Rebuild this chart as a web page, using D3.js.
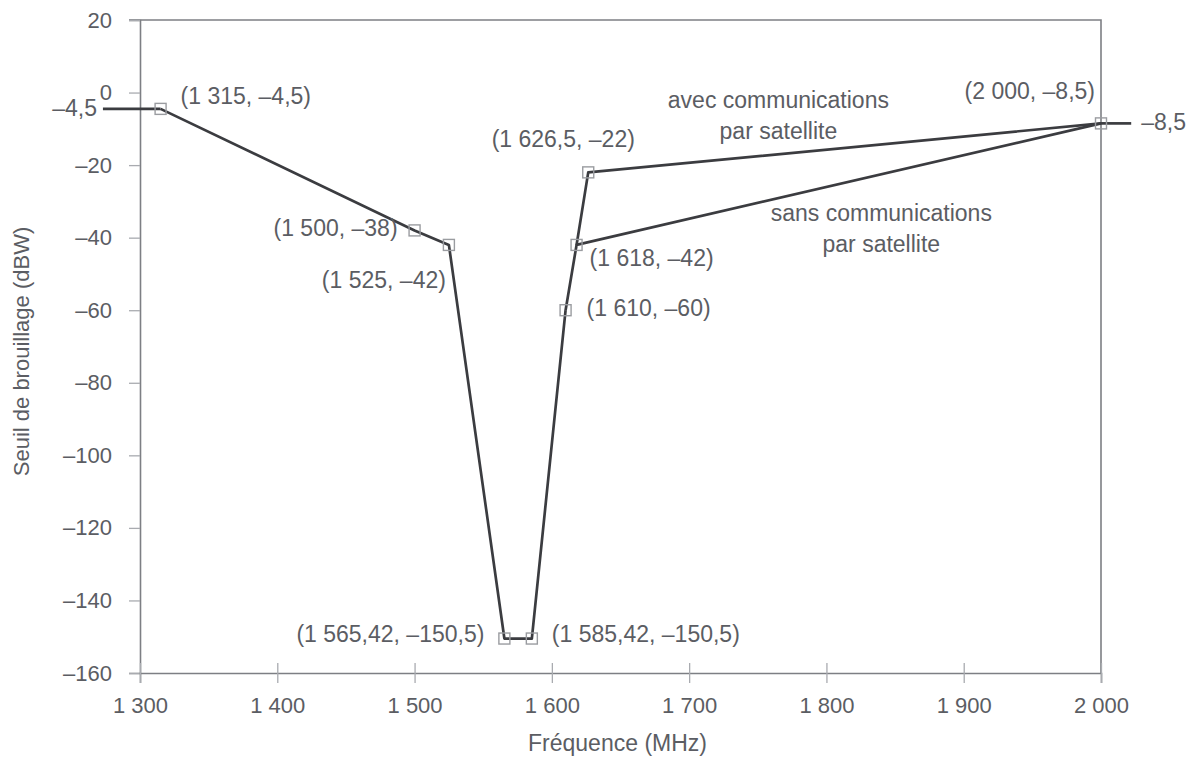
<!DOCTYPE html>
<html>
<head>
<meta charset="utf-8">
<script src="https://cdn.jsdelivr.net/npm/d3@7"></script>
<style>
  html, body { margin: 0; padding: 0; background: #ffffff; }
  svg { display: block; }
  text { font-family: "Liberation Sans", Arial, sans-serif; fill: #5b5d63; }
</style>
</head>
<body>
<svg id="chart" width="1194" height="773"></svg>
<script>
// ---- Data ----
const xTicks = [1300, 1400, 1500, 1600, 1700, 1800, 1900, 2000];
const yTicks = [20, 0, -20, -40, -60, -80, -100, -120, -140, -160];

// Shared lower part of the mask: frequency (MHz) and threshold (dBW)
const commonFreq = [1315, 1500, 1525, 1565.42, 1585.42, 1610];
const commonLevel = [-4.5, -38, -42, -150.5, -150.5, -60];

// "sans communications par satellite" branch
const sansFreq = [1610, 1618, 2000];
const sansLevel = [-60, -42, -8.5];

// "avec communications par satellite" branch
const avecFreq = [1618, 1626.5, 2000];
const avecLevel = [-42, -22, -8.5];

// Flat continuations beyond the mask end points
const leftEdgeFreq = [1273, 1315];
const leftEdgeLevel = [-4.5, -4.5];
const rightEdgeFreq = [2000, 2022];
const rightEdgeLevel = [-8.5, -8.5];

// Marked points
const markFreq = [1315, 1500, 1525, 1565.42, 1585.42, 1610, 1618, 1626.5, 2000];
const markLevel = [-4.5, -38, -42, -150.5, -150.5, -60, -42, -22, -8.5];

const branchLabels = [["avec communications", "par satellite"], ["sans communications", "par satellite"]];
const xTitle = "Fréquence (MHz)";
const yTitle = "Seuil de brouillage (dBW)";

// ---- Label placement (style, not data) ----
const markLabelPlace = [
  { dx: 20, dy: -11, anchor: "start" },
  { dx: -17, dy: 0, anchor: "end" },
  { dx: -3, dy: 37, anchor: "end" },
  { dx: -20, dy: -3, anchor: "end" },
  { dx: 20, dy: -3, anchor: "start" },
  { dx: 21, dy: 0, anchor: "start" },
  { dx: 13, dy: 15, anchor: "start" },
  { dx: -25, dy: -31, anchor: "middle" },
  { dx: -6, dy: -30, anchor: "end" }
];
const branchPlace = [{ f: 1765, lv: -2.6 }, { f: 1840, lv: -33.8 }];

// ---- Setup ----
const locale = d3.formatLocale({
  decimal: ",", thousands: " ", grouping: [3], currency: ["", ""], minus: "\u2013"
});
const fmt = locale.format(",");

const svg = d3.select("#chart");
const margin = { left: 140, right: 93, top: 20, bottom: 100 };
const W = 1194, H = 773;
const x = d3.scaleLinear().domain([1300, 2000]).range([margin.left, W - margin.right]);
const y = d3.scaleLinear().domain([-160, 20]).range([H - margin.bottom, margin.top]);

const axisColor = "#7d7f84";
const tickColor = "#a9abb0";
const lineColor = "#3b3c40";
const tickFont = 22;
const labelFont = 23;

// Frame (top & right)
svg.append("path")
  .attr("d", `M${x(1300) - 11},${y(20)}H${x(2000)}V${y(-160)}`)
  .attr("fill", "none").attr("stroke", axisColor).attr("stroke-width", 1.6);

// Y axis
const yAxis = svg.append("g").attr("transform", `translate(${x(1300)},0)`)
  .call(d3.axisLeft(y).tickValues(yTicks).tickFormat(fmt).tickSize(11).tickPadding(17));
yAxis.select(".domain").attr("stroke", axisColor).attr("stroke-width", 1.6);
yAxis.selectAll(".tick line").attr("stroke", tickColor).attr("stroke-width", 1.3);
yAxis.selectAll(".tick text").attr("font-size", tickFont).attr("fill", "#5b5d63")
  .attr("font-family", "Liberation Sans, Arial, sans-serif");

// X axis
const xAxis = svg.append("g").attr("transform", `translate(0,${y(-160)})`)
  .call(d3.axisBottom(x).tickValues(xTicks).tickFormat(fmt).tickSize(10).tickPadding(14));
xAxis.select(".domain").attr("stroke", axisColor).attr("stroke-width", 1.6);
xAxis.selectAll(".tick line").attr("stroke", tickColor).attr("stroke-width", 1.3).attr("y1", -10);
xAxis.selectAll(".tick text").attr("font-size", tickFont).attr("fill", "#5b5d63")
  .attr("font-family", "Liberation Sans, Arial, sans-serif");

// Axis titles
svg.append("text")
  .attr("x", (x(1300) + x(2000)) / 2 - 3).attr("y", y(-160) + 72)
  .attr("text-anchor", "middle").attr("dominant-baseline", "middle")
  .attr("font-size", 23).text(xTitle);
svg.append("text")
  .attr("transform", `translate(23,${(y(20) + y(-160)) / 2 + 5}) rotate(-90)`)
  .attr("text-anchor", "middle").attr("dominant-baseline", "middle")
  .attr("font-size", 22).text(yTitle);

// Lines
const line = d3.line().x(d => x(d[0])).y(d => y(d[1]));
const zip = (a, b) => a.map((v, i) => [v, b[i]]);
const series = [
  zip(leftEdgeFreq, leftEdgeLevel),
  zip(commonFreq, commonLevel),
  zip(sansFreq, sansLevel),
  zip(avecFreq, avecLevel),
  zip(rightEdgeFreq, rightEdgeLevel)
];
svg.append("g").selectAll("path").data(series).join("path")
  .attr("d", line).attr("fill", "none").attr("stroke", lineColor)
  .attr("stroke-width", 2.7).attr("stroke-linejoin", "round");

// Markers
const marks = zip(markFreq, markLevel);
svg.append("g").selectAll("rect").data(marks).join("rect")
  .attr("x", d => x(d[0]) - 5.5).attr("y", d => y(d[1]) - 5.5)
  .attr("width", 11).attr("height", 11)
  .attr("fill", "none").attr("stroke", "#9a9ca0").attr("stroke-width", 1.4);

// Point labels
svg.append("g").selectAll("text").data(marks).join("text")
  .attr("x", (d, i) => x(d[0]) + markLabelPlace[i].dx)
  .attr("y", (d, i) => y(d[1]) + markLabelPlace[i].dy)
  .attr("text-anchor", (d, i) => markLabelPlace[i].anchor)
  .attr("dominant-baseline", "middle")
  .attr("font-size", labelFont)
  .text(d => `(${fmt(d[0])}, ${fmt(d[1])})`);

// Edge value labels
svg.append("text").attr("x", x(leftEdgeFreq[0]) - 6).attr("y", y(leftEdgeLevel[0]) + 1)
  .attr("text-anchor", "end").attr("dominant-baseline", "middle")
  .attr("font-size", labelFont).text(fmt(leftEdgeLevel[0]));
svg.append("text").attr("x", x(rightEdgeFreq[1]) + 10).attr("y", y(rightEdgeLevel[1]) + 1)
  .attr("text-anchor", "start").attr("dominant-baseline", "middle")
  .attr("font-size", labelFont).text(fmt(rightEdgeLevel[1]));

// Branch labels
branchLabels.forEach((lines, i) => {
  const t = svg.append("text").attr("text-anchor", "middle").attr("font-size", labelFont);
  lines.forEach((s, j) => {
    t.append("tspan").attr("x", x(branchPlace[i].f)).attr("y", y(branchPlace[i].lv) + j * 31)
      .attr("dominant-baseline", "middle").text(s);
  });
});
</script>
</body>
</html>
